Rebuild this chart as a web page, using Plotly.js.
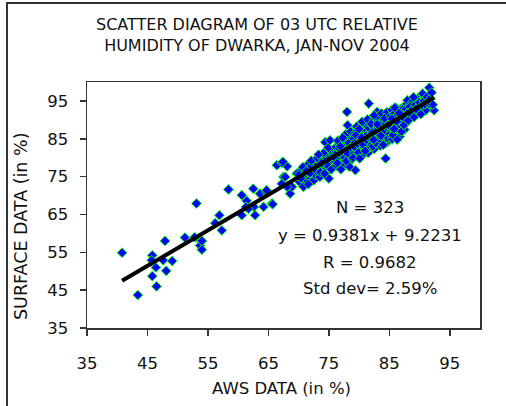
<!DOCTYPE html>
<html>
<head>
<meta charset="utf-8">
<script src="https://cdn.plot.ly/plotly-3.0.1.min.js"></script>
<style>html,body{margin:0;padding:0;background:#fff;}#chart{width:506px;height:406px;}</style>
</head>
<body>
<div id="chart"></div>
<script>
// AWS data (x) and surface data (y), relative humidity in %
const awsA = [40.8,43.4,45.8,45.7,46.4,45.8,46.5,47.6,48.1,49.1,47.9,51.2,53.1,53.7,53.7,54.0,56.2,56.9,57.3,58.4,52.8,54.0];
const sfcA = [54.9,43.7,54.2,52.9,51.0,48.7,46.0,52.9,50.1,52.7,58.0,58.9,67.9,58.2,56.8,55.7,62.7,64.8,60.8,71.6,59.0,58.0];

const awsB = [60.6,60.6,61.4,61.3,62.5,62.8,62.6,64.2,63.6,64.7,65.6,66.4,67.2,68.1,67.5,68.6,68.9,68.1,67.2,65.7,67.4,67.8,69.7,61.7,64.7];
const sfcB = [70.1,64.8,68.6,67.0,71.8,64.8,67.0,67.0,70.5,70.9,67.9,78.0,78.6,77.7,74.9,70.5,72.3,72.3,73.1,67.7,78.9,74.9,75.8,66.5,71.4];

const awsC1 = [70.2,70.5,70.8,71.0,71.4,71.2,71.8,70.0,72.0,72.3,72.5,72.6,72.9,71.6,70.7,72.1,71.3,72.8,70.4,71.9];
const sfcC1 = [73.5,76.8,72.3,75.0,78.0,74.2,77.3,75.5,74.6,76.0,74.0,78.5,77.2,73.0,77.5,79.2,76.5,75.4,74.6,75.9];

const awsC2 = [73.0,73.2,73.5,73.4,73.7,73.9,74.0,74.2,74.4,74.5,74.6,74.8,75.0,75.1,75.2,75.3,75.5,75.6,75.8,75.9,73.1,73.6,74.1,74.7,75.4,74.3,73.8,75.7,74.9,73.3];
const sfcC2 = [76.5,78.2,74.9,79.5,77.8,80.4,76.8,78.9,84.1,79.8,77.0,80.9,74.5,78.4,84.6,80.0,81.5,77.6,78.9,82.2,79.9,76.2,81.2,78.1,76.9,75.8,78.6,80.7,82.6,80.8];

const awsC3 = [76.0,76.1,76.2,76.3,76.4,76.6,76.7,76.8,76.9,77.0,77.1,77.2,77.3,77.4,77.5,77.6,77.7,77.8,77.9,78.0,78.1,78.0,78.2,78.3,78.4,78.5,78.6,78.7,78.8,78.9,76.5,77.0,77.8,78.4,76.2,76.8,77.3,77.6,78.1,78.6,76.4,77.9,78.3,78.9,76.9];
const sfcC3 = [80.5,79.0,82.8,77.9,81.3,80.2,83.6,78.4,81.9,79.7,84.0,82.3,80.6,78.0,83.1,81.0,79.4,84.8,82.0,92.1,88.6,80.3,83.5,81.4,79.0,85.6,82.7,80.1,84.2,81.8,84.5,76.9,86.2,77.6,79.6,82.4,85.3,80.0,81.0,86.9,78.6,79.1,83.9,79.7,83.0];

const awsC4 = [79.0,79.1,79.2,79.3,79.4,79.5,79.6,79.7,79.8,79.9,80.0,80.1,80.2,80.3,80.4,80.5,80.6,80.7,80.8,80.9,81.0,81.1,81.2,81.3,81.4,81.5,81.6,81.7,81.8,81.9,79.0,79.3,79.6,79.9,80.2,80.5,80.8,81.1,81.4,81.7,79.2,79.5,79.8,80.1,80.4,80.7,81.0,81.3,81.6,81.9,80.0];
const sfcC4 = [83.3,85.0,81.2,86.4,76.7,84.0,82.1,87.2,80.2,85.5,83.0,86.8,81.7,84.9,88.0,82.5,85.9,80.9,87.5,83.8,86.1,82.0,88.6,87.2,84.4,81.3,94.3,86.6,83.1,89.3,80.0,83.9,88.2,81.4,84.2,89.5,82.8,85.7,90.1,82.6,82.9,86.0,83.7,79.8,85.3,83.4,81.8,84.7,87.9,85.0,87.6];

const awsC5 = [82.0,82.1,82.2,82.3,82.4,82.5,82.6,82.7,82.8,82.9,83.0,83.1,83.2,83.3,83.4,83.5,83.6,83.7,83.8,83.9,84.0,84.1,84.2,84.3,84.4,84.5,84.6,84.7,84.8,84.9,82.0,82.3,82.6,82.9,83.2,83.5,83.8,84.1,84.4,84.7,82.2,82.5,82.8,83.1,83.4,83.7,84.0,84.3,84.6,84.9,82.4,83.0,83.6,84.2,84.8];
const sfcC5 = [86.1,83.5,88.4,85.2,90.0,82.3,87.0,84.6,89.2,86.0,92.1,84.1,88.0,85.6,90.6,83.2,87.6,89.8,86.4,84.8,88.2,91.0,85.9,89.5,79.8,87.0,84.0,84.6,90.2,86.5,88.9,83.0,85.5,90.8,86.3,88.7,84.2,87.3,89.0,85.2,86.7,91.2,83.9,87.4,85.0,91.7,83.4,86.8,92.0,88.4,84.7,88.8,85.8,90.4,87.8];

const awsC6 = [85.0,85.1,85.2,85.3,85.4,85.5,85.6,85.7,85.8,85.9,86.0,86.1,86.2,86.3,86.4,86.5,86.6,86.7,86.8,86.9,87.0,87.1,87.2,87.3,87.4,87.5,87.6,87.7,87.8,87.9,85.2,85.6,86.0,86.4,86.8,87.2,87.6,85.4,85.9,86.3,86.6,87.0,87.4,87.8,85.8];
const sfcC6 = [89.0,86.2,91.0,87.7,92.6,84.9,89.8,87.1,91.6,88.3,90.4,86.7,93.1,88.9,91.2,87.5,90.0,85.6,92.2,89.4,91.0,88.0,89.9,93.4,90.6,87.4,92.3,89.0,94.0,91.4,88.1,86.0,88.0,89.3,87.9,92.8,90.1,90.3,93.2,84.8,91.8,86.9,88.6,92.9,87.6];

const awsC7 = [88.0,88.8,88.5,89.6,89.6,90.5,91.6,91.3,92.4,91.0,88.2,88.4,88.6,88.9,89.1,89.3,89.5,89.8,90.0,90.2,90.4,90.7,90.9,91.2,91.5,91.8,92.0,92.2,88.1,89.0];
const sfcC7 = [95.2,94.7,90.3,95.6,91.6,96.9,98.5,93.4,92.5,92.5,92.0,93.5,91.2,92.8,90.7,94.0,93.0,92.2,94.6,91.5,93.8,95.0,94.1,96.0,94.4,95.7,97.2,94.0,89.8,96.0];

// regression statistics printed on the chart
const slope = 0.9381;
const intercept = 9.2231;
const statsLines = ["N = 323", "y = 0.9381x + 9.2231", "R = 0.9682", "Std dev= 2.59%"];
const tickVals = [35, 45, 55, 65, 75, 85, 95];

const aws = [].concat(awsA, awsB, awsC1, awsC2, awsC3, awsC4, awsC5, awsC6, awsC7);
const surface = [].concat(sfcA, sfcB, sfcC1, sfcC2, sfcC3, sfcC4, sfcC5, sfcC6, sfcC7);

const xMin = Math.min.apply(null, aws), xMax = Math.max.apply(null, aws);
const lineX = [xMin, xMax];
const lineY = lineX.map(v => slope * v + intercept);

// pixel geometry helpers (plot area 87..480 x 82..328)
const L = 87, R = 26, T = 82, B = 78, W = 506, H = 406;
const pw = W - L - R, ph = H - T - B;
const px = v => (v - L) / pw;
const py = v => (H - B - v) / ph;

const font = "DejaVu Sans, Verdana, sans-serif";
const statY = [207, 235, 262, 288];

const annotations = statsLines.map((t, i) => ({
  text: t, xref: 'paper', yref: 'paper', x: px(370), y: py(statY[i]),
  xanchor: 'center', yanchor: 'middle', showarrow: false,
  font: {family: font, size: 16.5, color: '#111'}
}));
annotations.push({
  text: 'AWS DATA (in %)', xref: 'paper', yref: 'paper', x: px(281), y: py(388),
  xanchor: 'center', yanchor: 'middle', showarrow: false,
  font: {family: font, size: 16.5, color: '#111'}
});
annotations.push({
  text: 'SURFACE DATA (in %)', xref: 'paper', yref: 'paper', x: px(21), y: py(227),
  xanchor: 'center', yanchor: 'middle', showarrow: false, textangle: -90,
  font: {family: font, size: 17.5, color: '#111'}
});
annotations.push({
  text: 'SCATTER DIAGRAM OF 03 UTC RELATIVE<br>HUMIDITY OF DWARKA, JAN-NOV 2004',
  xref: 'paper', yref: 'paper', x: px(257), y: py(35),
  xanchor: 'center', yanchor: 'middle', showarrow: false,
  font: {family: font, size: 16, color: '#111'}
});

const traces = [
  {
    x: aws, y: surface, type: 'scatter', mode: 'markers',
    marker: {symbol: 'diamond', size: 7.5, color: '#0000ff', line: {color: '#00ff00', width: 1}},
    hoverinfo: 'skip'
  },
  {
    x: lineX, y: lineY, type: 'scatter', mode: 'lines',
    line: {color: '#000000', width: 4}, hoverinfo: 'skip'
  }
];

const axisCommon = {
  range: [35, 100], tickvals: tickVals, ticktext: tickVals.map(String),
  showgrid: false, zeroline: false, showline: true, linecolor: '#333', linewidth: 1.5,
  mirror: true, ticks: 'outside', ticklen: 6, tickcolor: '#333', tickwidth: 1.5,
  tickfont: {family: font, size: 16.5, color: '#111'}, fixedrange: true
};

const layout = {
  width: W, height: H,
  margin: {l: L, r: R, t: T, b: B, pad: 0},
  paper_bgcolor: '#ffffff', plot_bgcolor: '#ffffff',
  showlegend: false, hovermode: false,
  xaxis: Object.assign({}, axisCommon, {ticklabelstandoff: 14}),
  yaxis: Object.assign({}, axisCommon, {ticklabelstandoff: 8}),
  annotations: annotations,
  shapes: [
    {type: 'line', xref: 'paper', yref: 'paper', x0: px(7), x1: px(7), y0: py(2), y1: py(410), line: {color: '#333', width: 2}},
    {type: 'line', xref: 'paper', yref: 'paper', x0: px(6), x1: px(510), y0: py(3), y1: py(3), line: {color: '#333', width: 2}}
  ]
};

Plotly.newPlot('chart', traces, layout, {displayModeBar: false, staticPlot: true});
</script>
</body>
</html>
